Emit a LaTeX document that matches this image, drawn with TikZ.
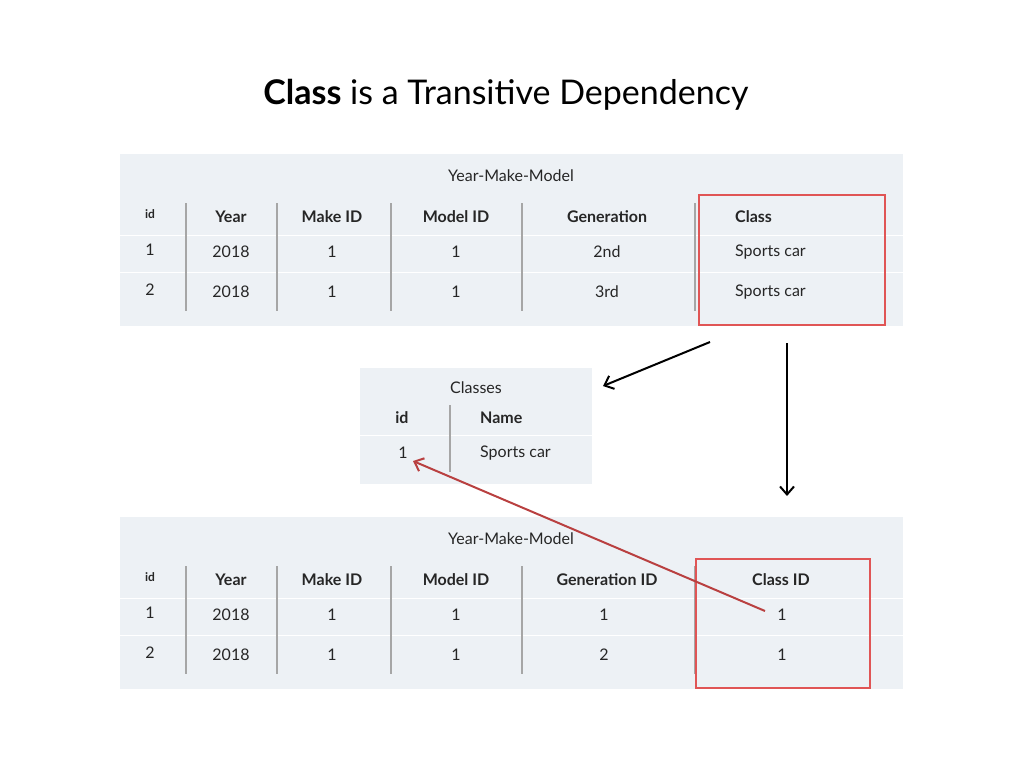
\documentclass[tikz,border=0pt]{standalone}
\usepackage{fontspec}
\setmainfont{Lato}
\usetikzlibrary{arrows.meta}
\definecolor{bg}{HTML}{EDF1F5}
\definecolor{redbox}{HTML}{E05555}
\definecolor{redarrow}{HTML}{B94040}
\tikzset{
 t/.style={font=\fontsize{16}{19}\selectfont,text=black!85,inner sep=0},
 h/.style={t,font=\fontsize{16}{19}\selectfont\bfseries},
 sid/.style={t,font=\fontsize{12}{14}\selectfont\bfseries},
 sep/.style={draw=gray!70,line width=1.2pt},
 rbox/.style={draw=redbox,line width=2pt},
 arr/.style={line width=2pt,-{Straight Barb[length=8pt,width=14pt]}}
}
\begin{document}
\begin{tikzpicture}[x=1pt,y=-1pt]
\useasboundingbox (0,0) rectangle (1024,768);
\node[font=\fontsize{34}{40}\selectfont] (title) at (506,95) {\textbf{Class} is a Transitive Dependency};
% top table
\fill[bg] (120,154) rectangle (903,326);
\draw[white,line width=1pt] (120,235) -- (903,235) (120,272) -- (903,272);
\node[t] (tt) at (511,176) {Year-Make-Model};
\foreach \x in {186,277,391,522,695} \draw[sep] (\x,203) -- (\x,311);
\node[sid] (tid) at (150,214) {id};
\node[h] (ty) at (231,217) {Year};
\node[h] (tm) at (332,217) {Make ID};
\node[h] (tmo) at (456,217) {Model ID};
\node[h] (tg) at (607,217) {Generation};
\node[h,anchor=west] (tc) at (735,217) {Class};
\foreach \y/\i/\g in {252/1/2nd,292/2/3rd}{
 \node[t] at (150,\y-2) {\i};
 \node[t] at (231,\y) {2018};
 \node[t] at (332,\y) {1};
 \node[t] at (456,\y) {1};
 \node[t] at (607,\y) {\g};
 \node[t,anchor=west] at (735,\y) {Sports car};
}
\node[rbox,minimum width=186,minimum height=130,anchor=north west] (r1) at (698,194) {};
% classes
\fill[bg] (360,368) rectangle (592,484);
\draw[white,line width=1pt] (360,435) -- (592,435);
\node[t] (ct) at (476,388) {Classes};
\draw[sep] (450,405) -- (450,472);
\node[h] (cid) at (402,418) {id};
\node[h,anchor=west] (cn) at (480,418) {Name};
\node[t] (c1) at (403,453) {1};
\node[t,anchor=west] (cs) at (480,453) {Sports car};
% bottom table
\fill[bg] (120,517) rectangle (903,689);
\draw[white,line width=1pt] (120,598) -- (903,598) (120,635) -- (903,635);
\node[t] (bt) at (511,539) {Year-Make-Model};
\foreach \x in {186,277,391,522,695} \draw[sep] (\x,566) -- (\x,674);
\node[sid] (bid) at (150,577) {id};
\node[h] (by) at (231,580) {Year};
\node[h] (bm) at (332,580) {Make ID};
\node[h] (bmo) at (456,580) {Model ID};
\node[h] (bg) at (607,580) {Generation ID};
\node[h] (bc) at (781,580) {Class ID};
\foreach \y/\i in {615/1,655/2}{
 \node[t] at (150,\y-2) {\i};
 \node[t] at (231,\y) {2018};
 \node[t] at (332,\y) {1};
 \node[t] at (456,\y) {1};
 \node[t] at (604,\y) {\i};
 \node[t] at (782,\y) {1};
}
\coordinate (b1) at (765,611);
\node[rbox,minimum width=174,minimum height=129,anchor=north west] (r2) at (695,558) {};
% arrows
\coordinate (a1s) at (710,342); \coordinate (a1e) at (603,386);
\coordinate (a2s) at (787,343); \coordinate (a2e) at (787,496);
\coordinate (a3e) at (413,461);
\draw[arr] (a1s) -- (a1e);
\draw[arr] (a2s) -- (a2e);
\draw[arr,redarrow] (b1) -- (a3e);
\end{tikzpicture}
\end{document}
